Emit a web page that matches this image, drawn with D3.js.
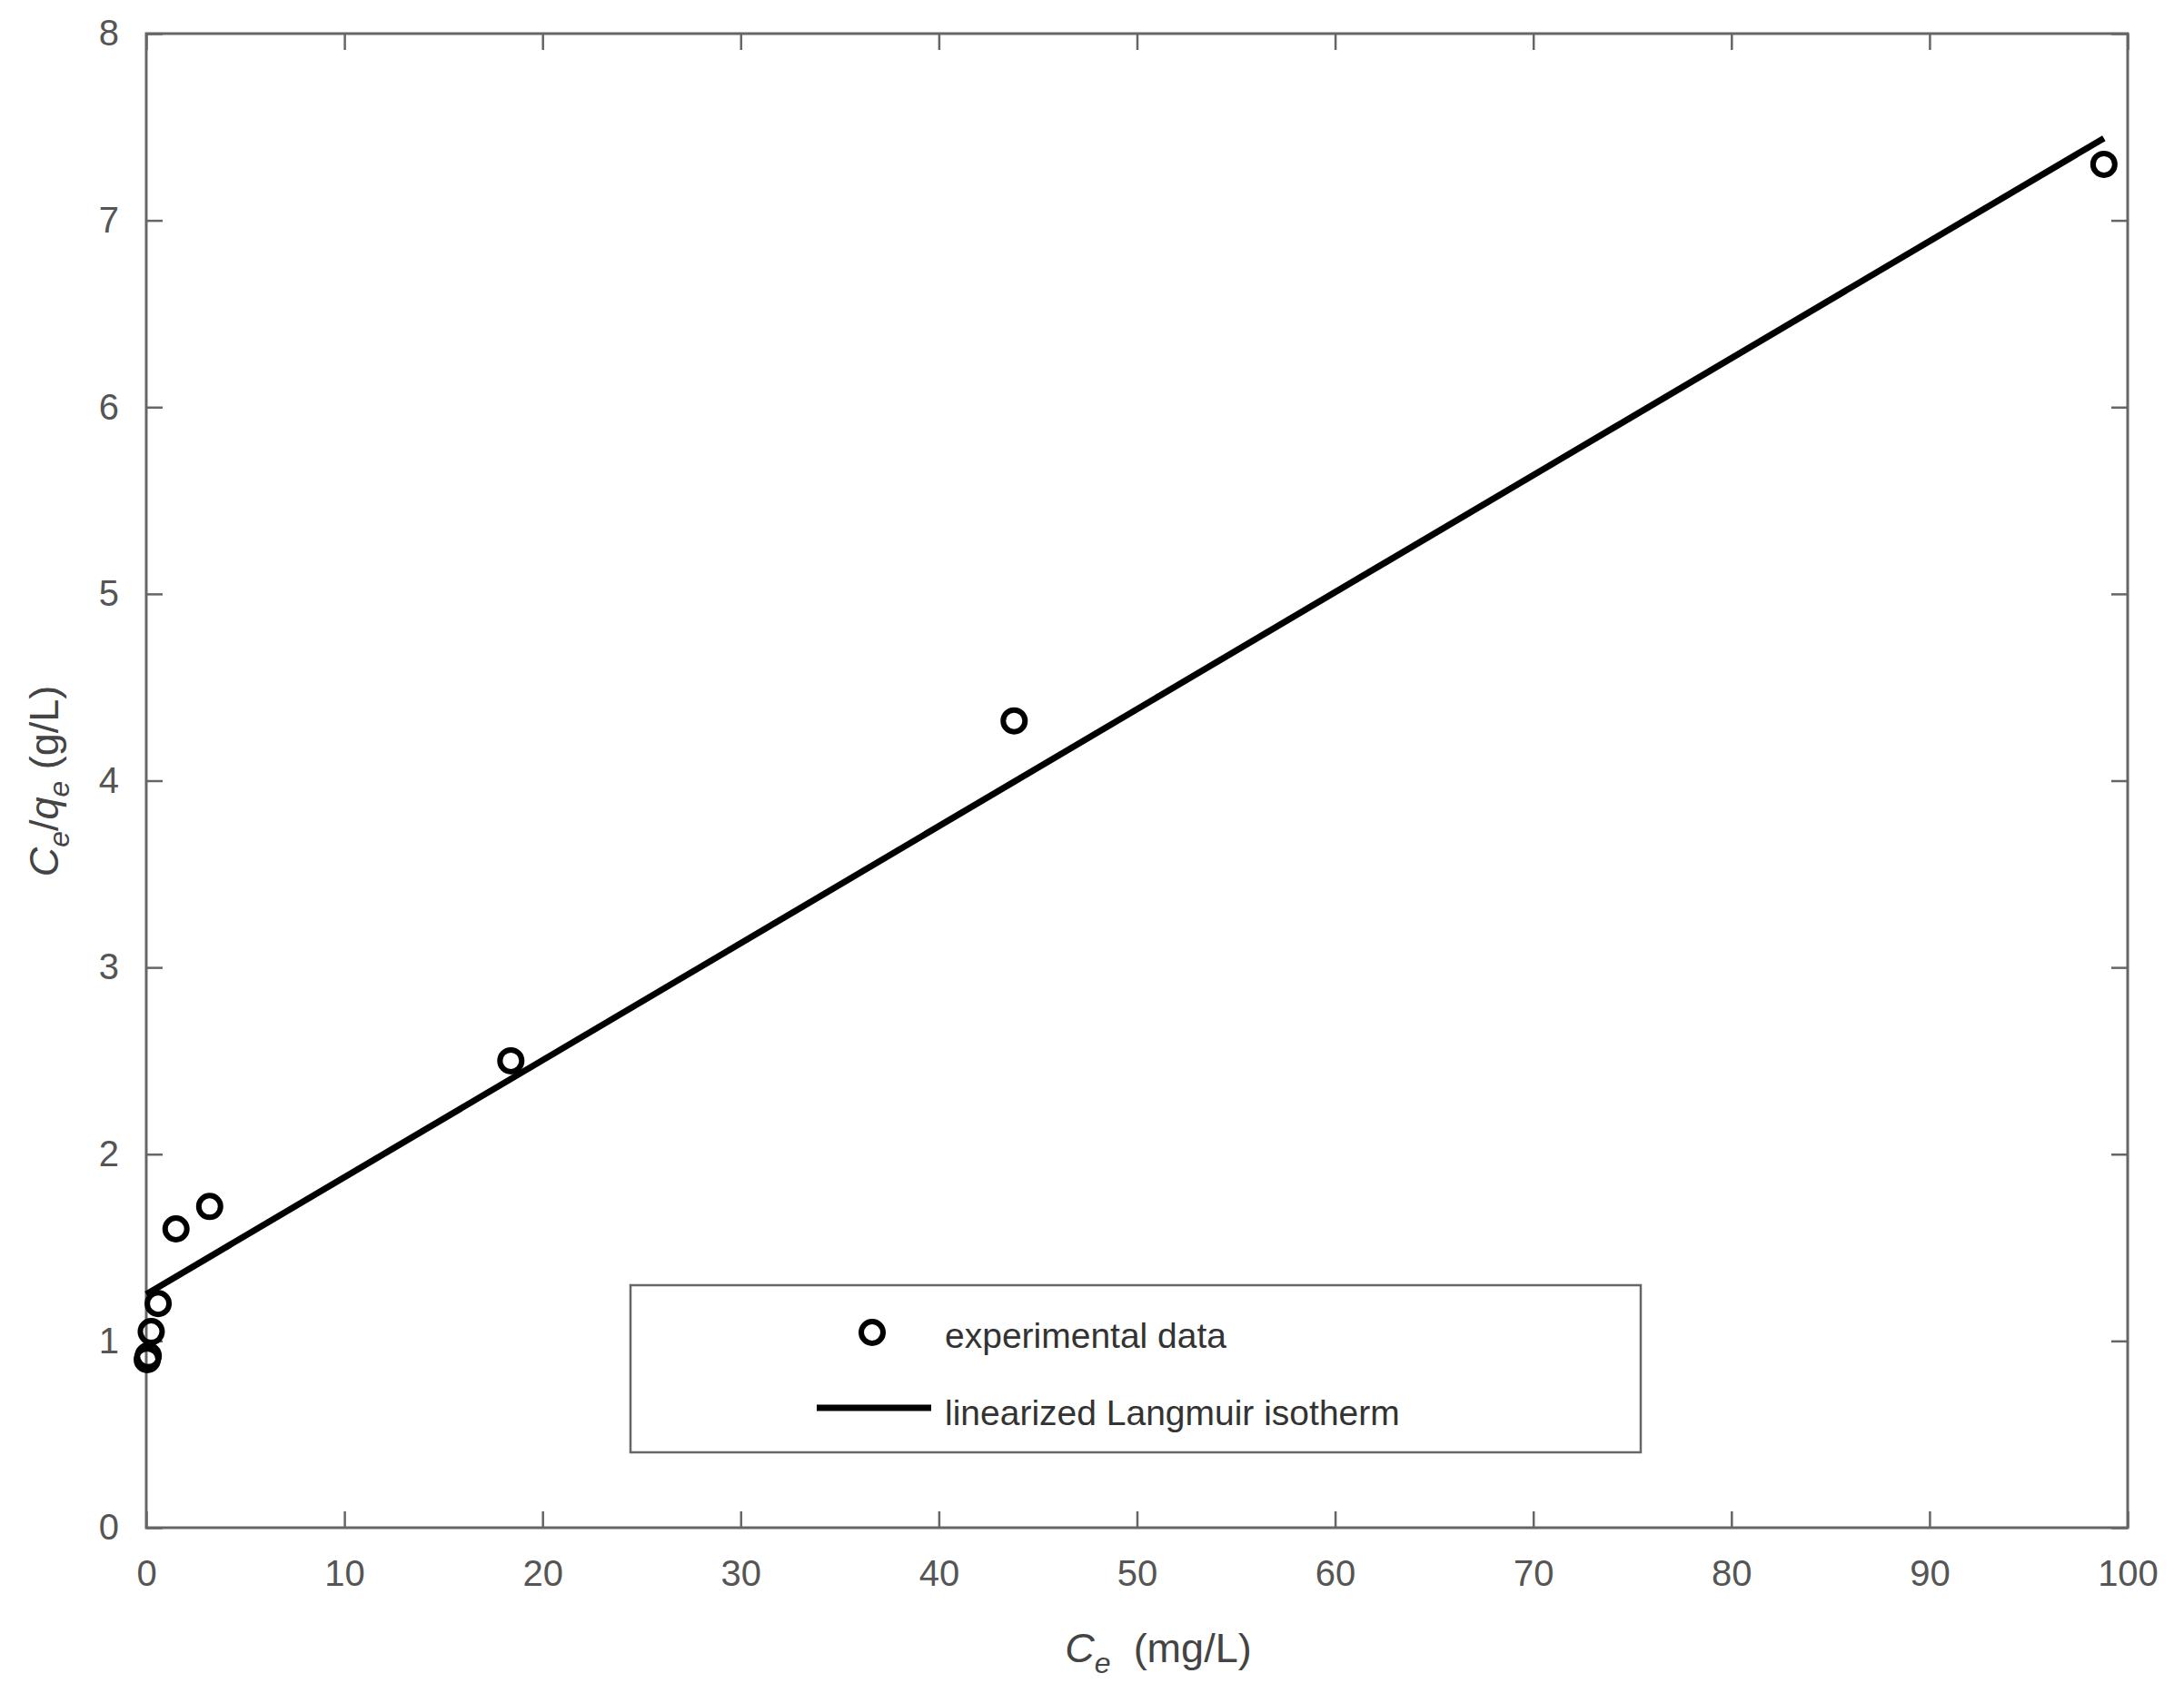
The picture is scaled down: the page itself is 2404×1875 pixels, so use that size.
<!DOCTYPE html>
<html>
<head>
<meta charset="utf-8">
<script src="https://cdn.jsdelivr.net/npm/d3@7"></script>
<style>
  body { margin: 0; background: #fff; }
  text { font-family: Arial, "Liberation Sans", sans-serif; }
</style>
</head>
<body>
<svg id="chart" width="2404" height="1875"></svg>
<script>
// experimental points
const ceValues = [0.05, 0.1, 0.25, 0.6, 1.5, 3.2, 18.4, 43.8, 98.8];
const ratioValues = [0.9, 0.92, 1.05, 1.2, 1.6, 1.72, 2.5, 4.32, 7.3];
// fitted line end points
const fitX = [0, 98.8];
const fitY = [1.25, 7.44];
const xTicks = [0, 10, 20, 30, 40, 50, 60, 70, 80, 90, 100];
const yTicks = [0, 1, 2, 3, 4, 5, 6, 7, 8];

const margin = { left: 161, right: 2342, top: 37, bottom: 1682 };
const svg = d3.select('#chart');
const axisColor = '#666';

const x = d3.scaleLinear().domain([0, 100]).range([margin.left, margin.right]);
const y = d3.scaleLinear().domain([0, 8]).range([margin.bottom, margin.top]);

// box
svg.append('rect')
  .attr('x', margin.left).attr('y', margin.top)
  .attr('width', margin.right - margin.left)
  .attr('height', margin.bottom - margin.top)
  .attr('fill', 'none').attr('stroke', axisColor).attr('stroke-width', 3);

function styleAxis(g) {
  g.select('.domain').remove();
  g.selectAll('line').attr('stroke', axisColor).attr('stroke-width', 2.5);
  g.selectAll('text').attr('fill', '#555').style('font-size', '40px');
}

svg.append('g').attr('transform', `translate(0,${margin.bottom})`)
  .call(d3.axisBottom(x).tickValues(xTicks).tickSize(-18).tickPadding(36))
  .call(styleAxis);
svg.append('g').attr('transform', `translate(0,${margin.top})`)
  .call(d3.axisTop(x).tickValues(xTicks).tickSize(-18).tickFormat(''))
  .call(styleAxis);
svg.append('g').attr('transform', `translate(${margin.left},0)`)
  .call(d3.axisLeft(y).tickValues(yTicks).tickSize(-18).tickPadding(30))
  .call(styleAxis);
svg.append('g').attr('transform', `translate(${margin.right},0)`)
  .call(d3.axisRight(y).tickValues(yTicks).tickSize(-18).tickFormat(''))
  .call(styleAxis);

// fit line
svg.append('path')
  .datum(fitX.map((d, i) => [d, fitY[i]]))
  .attr('d', d3.line().x(d => x(d[0])).y(d => y(d[1])))
  .attr('stroke', '#000').attr('stroke-width', 7).attr('fill', 'none');

// points
svg.selectAll('circle.pt')
  .data(ceValues.map((d, i) => [d, ratioValues[i]]))
  .join('circle')
  .attr('class', 'pt')
  .attr('cx', d => x(d[0])).attr('cy', d => y(d[1]))
  .attr('r', 12).attr('fill', 'none').attr('stroke', '#000').attr('stroke-width', 6);

// legend
const lg = svg.append('g');
lg.append('rect').attr('x', 694).attr('y', 1415).attr('width', 1112).attr('height', 184)
  .attr('fill', '#fff').attr('stroke', axisColor).attr('stroke-width', 2.5);
lg.append('circle').attr('cx', 960).attr('cy', 1467).attr('r', 12)
  .attr('fill', 'none').attr('stroke', '#000').attr('stroke-width', 6);
lg.append('text').attr('x', 1040).attr('y', 1484).text('experimental data')
  .style('font-size', '39px').attr('fill', '#333');
lg.append('line').attr('x1', 899).attr('x2', 1025).attr('y1', 1550).attr('y2', 1550)
  .attr('stroke', '#000').attr('stroke-width', 7);
lg.append('text').attr('x', 1040).attr('y', 1569).text('linearized Langmuir isotherm')
  .style('font-size', '39px').attr('fill', '#333');

// axis titles
const xl = svg.append('text').attr('x', 1275).attr('y', 1830).attr('text-anchor', 'middle')
  .style('font-size', '45px').attr('fill', '#444');
xl.append('tspan').text('C').style('font-style', 'italic');
xl.append('tspan').text('e').style('font-style', 'italic').style('font-size', '32px').attr('dy', 12);
xl.append('tspan').text('  (mg/L)').attr('dy', -12).attr('xml:space', 'preserve');

const yl = svg.append('text').attr('transform', 'translate(64,860) rotate(-90)').attr('text-anchor', 'middle')
  .style('font-size', '45px').attr('fill', '#444');
yl.append('tspan').text('C').style('font-style', 'italic');
yl.append('tspan').text('e').style('font-style', 'italic').style('font-size', '32px').attr('dy', 12);
yl.append('tspan').text('/').attr('dy', -12);
yl.append('tspan').text('q').style('font-style', 'italic');
yl.append('tspan').text('e').style('font-style', 'italic').style('font-size', '32px').attr('dy', 12);
yl.append('tspan').text('  (g/L)').attr('dy', -12);
</script>
</body>
</html>
